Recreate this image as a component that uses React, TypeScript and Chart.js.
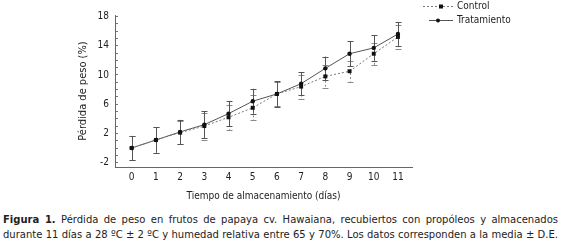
import React, { useEffect, useRef } from "react";
import { Chart, registerables } from "chart.js";

Chart.register(...registerables);

const days = [0, 1, 2, 3, 4, 5, 6, 7, 8, 9, 10, 11];
const controlValues = [0, 1.1, 2.1, 3.0, 4.2, 5.5, 7.4, 8.4, 9.8, 10.5, 12.9, 15.2];
const treatmentValues = [0, 1.1, 2.2, 3.2, 4.7, 6.4, 7.4, 8.8, 10.9, 12.9, 13.7, 15.6];
const controlSD = [1.65, 1.75, 1.6, 1.85, 1.7, 1.7, 1.7, 1.65, 1.6, 1.4, 1.5, 1.6];
const treatmentSD = [1.65, 1.75, 1.65, 1.8, 1.75, 1.7, 1.75, 1.6, 1.6, 1.7, 1.75, 1.6];
const yLabelTicks = [-2, 2, 6, 10, 14, 18];
const seriesNames = ["Control", "Tratamiento"];
const xTitle = "Tiempo de almacenamiento (días)";
const yTitle = "Pérdida de peso (%)";

const AXIS_FONT = "'DejaVu Sans Condensed', 'DejaVu Sans', sans-serif";

const errorBarPlugin = {
  id: "errorBars",
  beforeDatasetsDraw(chart: any) {
    const ctx = chart.ctx;
    const xs = chart.scales.x;
    const ys = chart.scales.y;
    const sets = [
      { vals: controlValues, sd: controlSD, color: "#8a8a8a", dash: [2, 2] },
      { vals: treatmentValues, sd: treatmentSD, color: "#555", dash: [] as number[] },
    ];
    ctx.save();
    ctx.lineWidth = 1;
    for (const s of sets) {
      ctx.strokeStyle = s.color;
      for (let i = 0; i < days.length; i++) {
        const x = Math.round(xs.getPixelForValue(days[i])) + 0.5;
        const yTop = ys.getPixelForValue(s.vals[i] + s.sd[i]);
        const yBot = ys.getPixelForValue(s.vals[i] - s.sd[i]);
        ctx.setLineDash(s.dash);
        ctx.beginPath();
        ctx.moveTo(x, yTop);
        ctx.lineTo(x, yBot);
        ctx.stroke();
        ctx.setLineDash([]);
        ctx.beginPath();
        ctx.moveTo(x - 3, Math.round(yTop) + 0.5);
        ctx.lineTo(x + 3, Math.round(yTop) + 0.5);
        ctx.moveTo(x - 3, Math.round(yBot) + 0.5);
        ctx.lineTo(x + 3, Math.round(yBot) + 0.5);
        ctx.stroke();
      }
    }
    ctx.restore();
  },
};

const legendPlugin = {
  id: "customLegend",
  afterDraw(chart: any) {
    const ctx = chart.ctx;
    const right = chart.chartArea.right;
    const lineEnd = right + 41;
    const textX = right + 45;
    ctx.save();
    ctx.lineWidth = 1;
    // Control
    let y = 6.5;
    ctx.strokeStyle = "#777";
    ctx.setLineDash([2, 2]);
    ctx.beginPath();
    ctx.moveTo(lineEnd - 30, y);
    ctx.lineTo(lineEnd, y);
    ctx.stroke();
    ctx.setLineDash([]);
    ctx.fillStyle = "#111";
    ctx.fillRect(lineEnd - 14, y - 2, 4, 4);
    // Treatment
    y = 20.5;
    ctx.strokeStyle = "#555";
    ctx.beginPath();
    ctx.moveTo(lineEnd - 24, y);
    ctx.lineTo(lineEnd, y);
    ctx.stroke();
    ctx.beginPath();
    ctx.arc(lineEnd - 15, y, 2, 0, Math.PI * 2);
    ctx.fill();
    ctx.fillStyle = "#222";
    ctx.font = `10px ${AXIS_FONT}`;
    ctx.textBaseline = "middle";
    ctx.textAlign = "left";
    ctx.fillText(seriesNames[0], textX, 6.5);
    ctx.fillText(seriesNames[1], textX, 20.5);
    ctx.restore();
  },
};

export default function App() {
  const ref = useRef<HTMLCanvasElement | null>(null);
  useEffect(() => {
    if (!ref.current) return;
    const chart = new Chart(ref.current, {
      type: "line",
      data: {
        datasets: [
          {
            label: seriesNames[0],
            data: days.map((d, i) => ({ x: d, y: controlValues[i] })),
            borderColor: "#777",
            borderWidth: 1,
            borderDash: [2, 2],
            pointStyle: "rect",
            pointRadius: 2.8,
            pointBackgroundColor: "#111",
            pointBorderColor: "#111",
            pointBorderWidth: 0,
            tension: 0,
          },
          {
            label: seriesNames[1],
            data: days.map((d, i) => ({ x: d, y: treatmentValues[i] })),
            borderColor: "#555",
            borderWidth: 1,
            pointStyle: "circle",
            pointRadius: 2.2,
            pointBackgroundColor: "#111",
            pointBorderColor: "#111",
            pointBorderWidth: 0,
            tension: 0,
          },
        ],
      },
      plugins: [errorBarPlugin, legendPlugin],
      options: {
        animation: false,
        responsive: false,
        maintainAspectRatio: false,
        layout: { padding: { left: 73, right: 149, top: 14.6, bottom: 0 } },
        plugins: { legend: { display: false }, tooltip: { enabled: false } },
        scales: {
          x: {
            type: "linear",
            min: -0.69,
            max: 11.58,
            afterBuildTicks(scale: any) {
              scale.ticks = days.map((d) => ({ value: d }));
            },
            afterFit(scale: any) {
              scale.height = 38;
            },
            grid: { display: false, drawTicks: false },
            border: { display: true, color: "#666", width: 1 },
            ticks: {
              color: "#222",
              padding: 4,
              maxRotation: 0,
              font: { family: AXIS_FONT, size: 10 },
            },
            title: {
              display: true,
              text: xTitle,
              color: "#222",
              padding: { top: 4, bottom: 3 },
              font: { family: AXIS_FONT, size: 10 },
            },
          },
          y: {
            type: "linear",
            min: -2.6,
            max: 18.2,
            afterBuildTicks(scale: any) {
              const t = [];
              for (let v = -2; v <= 18; v++) t.push({ value: v });
              scale.ticks = t;
            },
            afterFit(scale: any) {
              scale.width = 42;
            },
            grid: {
              display: true,
              drawOnChartArea: false,
              drawTicks: true,
              tickLength: -3,
              color: "#777",
            },
            border: { display: true, color: "#666", width: 1 },
            ticks: {
              color: "#222",
              padding: 9,
              autoSkip: false,
              font: { family: AXIS_FONT, size: 10 },
              callback: (v: any) => (yLabelTicks.includes(Number(v)) ? String(v) : ""),
            },
            title: {
              display: true,
              text: yTitle,
              color: "#222",
              padding: { top: 4, bottom: 0 },
              font: { family: AXIS_FONT, size: 11 },
            },
          },
        },
      },
    });
    return () => chart.destroy();
  }, []);

  const captionLine: React.CSSProperties = {
    textAlign: "justify",
    textAlignLast: "justify",
    whiteSpace: "nowrap",
  };

  return (
    <div style={{ position: "fixed", left: 0, top: 0, width: 561, height: 244, background: "#fff" }}>
      <canvas ref={ref} width={561} height={205} style={{ display: "block", width: 561, height: 205 }} />
      <div
        style={{
          position: "absolute",
          left: 3,
          top: 212,
          width: 555,
          fontFamily: "'DejaVu Sans', Verdana, sans-serif",
          fontSize: "10px",
          lineHeight: "15px",
          color: "#222",
        }}
      >
        <div style={captionLine}>
          <b>Figura 1.</b> Pérdida de peso en frutos de papaya cv. Hawaiana, recubiertos con propóleos y almacenados
        </div>
        <div style={captionLine}>
          durante 11 días a 28 ºC ± 2 ºC y humedad relativa entre 65 y 70%. Los datos corresponden a la media ± D.E.
        </div>
      </div>
    </div>
  );
}
